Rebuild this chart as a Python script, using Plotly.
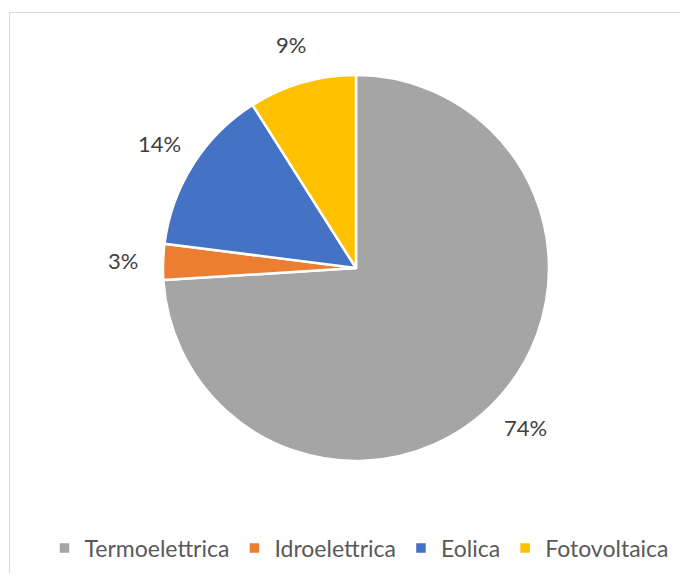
import math
import plotly.graph_objects as go

labels = ["Termoelettrica", "Idroelettrica", "Eolica", "Fotovoltaica"]
values = [74, 3, 14, 9]
colors = ["#A5A5A5", "#ED7D31", "#4472C4", "#FFC000"]

# page has an 8px body margin, so the figure is drawn 8px in from the window edge
W, H = 672, 565
cx, cy, R = 348, 260, 193
label_r = 233

fig = go.Figure(go.Pie(
    labels=labels, values=values, sort=False, direction="clockwise", rotation=0,
    marker=dict(colors=colors, line=dict(color="white", width=2.5)),
    textinfo="none", hoverinfo="label+percent",
    domain=dict(x=[(cx - R) / W, (cx + R) / W], y=[1 - (cy + R) / H, 1 - (cy - R) / H]),
))

total = sum(values)
cum = 0
anns = []
for v in values:
    mid = (cum + v / 2) / total * 2 * math.pi
    cum += v
    px = cx + label_r * math.sin(mid)
    py = cy - label_r * math.cos(mid)
    anns.append(dict(x=px / W, y=1 - py / H, xref="paper", yref="paper",
                     text=f"{round(v / total * 100)}%", showarrow=False,
                     font=dict(family="Lato", size=22, color="#404040"),
                     xanchor="center", yanchor="middle"))

fig.update_layout(
    width=W, height=H, margin=dict(l=0, r=0, t=0, b=0),
    paper_bgcolor="white", plot_bgcolor="white",
    annotations=anns,
    showlegend=True,
    legend=dict(orientation="h", x=351 / W, xanchor="center", y=1 - 540 / H, yanchor="middle",
                font=dict(family="Lato", size=23, color="#595959"),
                itemwidth=30, tracegroupgap=0),
    shapes=[dict(type="rect", xref="paper", yref="paper", x0=1.5 / W, x1=1.05,
                 y0=-0.05, y1=1 - 4.5 / H, line=dict(color="#D9D9D9", width=1))],
)

fig.write_html("out.html")
